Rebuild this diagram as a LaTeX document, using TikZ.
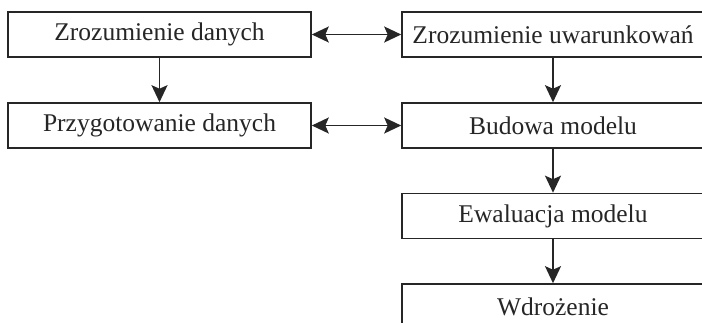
\documentclass[tikz,border=0pt]{standalone}
\usepackage{fontspec}
\setmainfont{Liberation Serif}
\usetikzlibrary{arrows.meta}
\definecolor{ink}{HTML}{262626}
\tikzset{
  stage/.style={draw=ink, line width=1.6pt, minimum height=45pt, inner sep=0pt,
    font=\fontsize{25.5}{28}\selectfont, text=ink},
  leftstage/.style={stage, minimum width=303pt},
  rightstage/.style={stage, minimum width=302pt},
  tip/.tip={Stealth[length=17pt, width=16pt, inset=3.5pt]},
  flow/.style={draw=ink, line width=1.6pt, -tip},
  both/.style={draw=ink, line width=1.6pt, tip-tip}
}
\begin{document}
\begin{tikzpicture}[x=1pt, y=-1pt]
  \useasboundingbox (0,0) rectangle (702,322);
  \clip (0,0) rectangle (702,322);
  \fill[white] (0,0) rectangle (702,322);

  % left column
  \node[leftstage] (zd) at (159.5,34.5) {Zrozumienie danych};
  \node[leftstage] (pd) at (159.5,125.5) {Przygotowanie danych};

  % right column (boxes run past the right margin)
  \node[rightstage] (zu) at (553,34.5) {Zrozumienie uwarunkowań};
  \node[rightstage] (bm) at (553,125.5) {Budowa modelu};
  \node[rightstage] (em) at (553,216) {Ewaluacja modelu};
  \node[rightstage] (wd) at (553,306.5) {Wdrożenie};

  % links
  \draw[both] (zd.east) -- (zu.west);
  \draw[both] (pd.east) -- (bm.west);
  \draw[flow] (zd.south) -- (pd.north);
  \draw[flow] (zu.south) -- (bm.north);
  \draw[flow] (bm.south) -- (em.north);
  \draw[flow] (em.south) -- (wd.north);
\end{tikzpicture}
\end{document}
